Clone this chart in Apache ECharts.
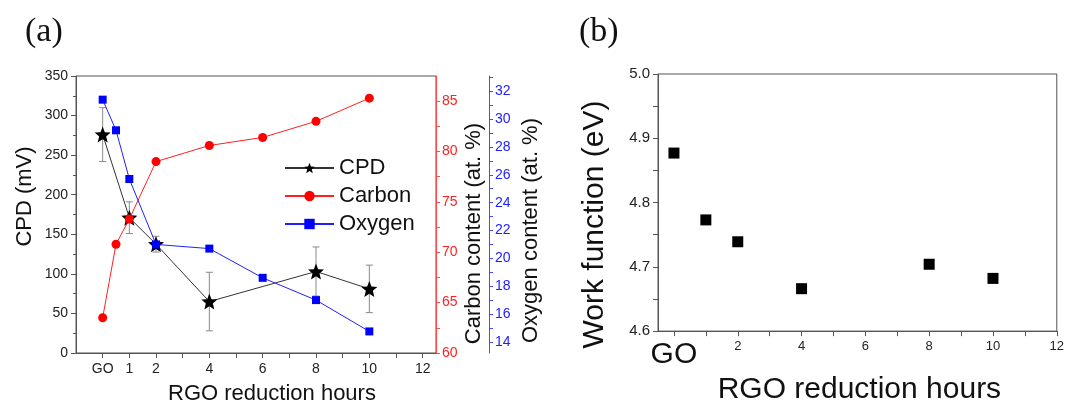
<!DOCTYPE html>
<html>
<head>
<meta charset="utf-8">
<script src="https://cdn.jsdelivr.net/npm/echarts@6/dist/echarts.min.js"></script>
<style>
  html, body { margin: 0; padding: 0; background: #fff; }
  #main { width: 1067px; height: 410px; }
</style>
</head>
<body>
<div id="main"></div>
<script>
// panel (a)
var hoursCPD = [0, 1, 2, 4, 8, 10];
var cpd = [276, 171, 137.5, 65, 103, 81];
var cpdErr = [34, 20, 10, 37, 31, 30];
var hoursComp = [0, 0.5, 1, 2, 4, 6, 8, 10];
var carbon = [63.5, 70.8, 73.3, 79.0, 80.6, 81.4, 83.0, 85.3];
var oxygen = [31.4, 29.2, 25.7, 21.0, 20.7, 18.6, 17.0, 14.75];
var xLabelsA = [0, 1, 2, 4, 6, 8, 10, 12];
var xTicks = [0, 1, 2, 3, 4, 5, 6, 7, 8, 9, 10, 11, 12];
var carbonTicks = [60, 62.5, 65, 67.5, 70, 72.5, 75, 77.5, 80, 82.5, 85];
var carbonLabels = [60, 65, 70, 75, 80, 85];
var oxygenTicks = [14, 15, 16, 17, 18, 19, 20, 21, 22, 23, 24, 25, 26, 27, 28, 29, 30, 31, 32, 33];
var oxygenLabels = [14, 16, 18, 20, 22, 24, 26, 28, 30, 32];

// panel (b)
var hoursWF = [0, 1, 2, 4, 8, 10];
var workFn = [4.877, 4.773, 4.739, 4.666, 4.704, 4.682];
var xLabelsB = [0, 2, 4, 6, 8, 10, 12];
var wfTicks = [4.6, 4.65, 4.7, 4.75, 4.8, 4.85, 4.9, 4.95, 5.0];
var wfLabels = [4.6, 4.7, 4.8, 4.9, 5.0];

// five-point star, a bit chubby like Origin's
var starPath = 'path://M50 0 L63 33 L98 35 L71 58 L80 93 L50 74 L20 93 L29 58 L2 35 L37 33 Z';
var font = 'Liberation Sans';
var axisGray = '#555';

function zip(xs, ys) {
    return xs.map(function (x, i) { return [x, ys[i]]; });
}

var myChart = echarts.init(document.getElementById('main'));
var option = {
    animation: false,
    textStyle: { fontFamily: font },
    title: [
        { text: '(a)', left: 20, top: 10, textStyle: { fontFamily: 'Liberation Serif', fontSize: 34, fontWeight: 'normal', color: '#111' } },
        { text: '(b)', left: 574, top: 10, textStyle: { fontFamily: 'Liberation Serif', fontSize: 34, fontWeight: 'normal', color: '#111' } }
    ],
    legend: {
        left: 279,
        top: 152,
        orient: 'vertical',
        itemWidth: 49,
        itemHeight: 13,
        itemGap: 6,
        textStyle: { fontSize: 22, color: '#111', fontFamily: font },
        data: ['CPD', 'Carbon', 'Oxygen']
    },
    grid: [
        { left: 76, top: 76, width: 360, height: 283, show: true, borderColor: axisGray, borderWidth: 1 },
        { left: 658, top: 74, width: 399, height: 285, show: true, borderColor: axisGray, borderWidth: 1 }
    ],
    xAxis: [
        {
            gridIndex: 0, type: 'value', min: -1, max: 12.5,
            name: 'RGO reduction hours', nameLocation: 'middle', nameGap: 30,
            nameTextStyle: { fontSize: 22, color: '#111', padding: [0, 0, 0, 32] },
            axisLine: { onZero: false, lineStyle: { color: axisGray } },
            axisTick: { customValues: xTicks, length: 5, lineStyle: { color: axisGray } },
            axisLabel: {
                customValues: xLabelsA, margin: 9, fontSize: 14, color: '#222',
                formatter: function (v) { return v === 0 ? 'GO' : String(v); }
            },
            splitLine: { show: false }
        },
        {
            gridIndex: 1, type: 'value', min: -0.5, max: 12,
            name: 'RGO reduction hours', nameLocation: 'middle', nameGap: 24,
            nameTextStyle: { fontSize: 30, color: '#111', padding: [0, 0, 0, 4] },
            axisLine: { onZero: false, lineStyle: { color: axisGray } },
            axisTick: { customValues: xTicks, length: 5, lineStyle: { color: axisGray } },
            axisLabel: {
                customValues: xLabelsB, margin: 9, fontSize: 13, color: '#222',
                formatter: function (v) { return v === 0 ? '{go|GO}' : String(v); },
                rich: { go: { fontSize: 30, color: '#111', fontFamily: font } }
            },
            splitLine: { show: false }
        }
    ],
    yAxis: [
        {
            gridIndex: 0, type: 'value', min: 0, max: 350, interval: 50,
            name: 'CPD (mV)', nameLocation: 'middle', nameGap: 40, nameRotate: 90,
            nameTextStyle: { fontSize: 22, color: '#111', padding: [0, 0, 0, 36] },
            axisLine: { show: true, onZero: false, lineStyle: { color: axisGray } },
            axisTick: { show: true, length: 5, lineStyle: { color: axisGray } },
            minorTick: { show: true, splitNumber: 2, length: 3, lineStyle: { color: axisGray } },
            axisLabel: { fontSize: 14, color: '#222', margin: 8 },
            splitLine: { show: false }
        },
        {
            gridIndex: 0, type: 'value', position: 'right', min: 60, max: 87.5,
            name: 'Carbon content (at. %)', nameLocation: 'middle', nameGap: 27, nameRotate: 90,
            nameTextStyle: { fontSize: 22, color: '#111', padding: [0, 38, 0, 0] },
            axisLine: { show: true, onZero: false, lineStyle: { color: '#ff4a4a' } },
            axisTick: { show: true, customValues: carbonTicks, length: 4, lineStyle: { color: '#ff4a4a' } },
            axisLabel: { customValues: carbonLabels, fontSize: 14, color: '#ff2020', margin: 6 },
            splitLine: { show: false }
        },
        {
            gridIndex: 0, type: 'value', position: 'right', offset: 53, min: 13.2, max: 33.1,
            name: 'Oxygen content (at. %)', nameLocation: 'middle', nameGap: 31, nameRotate: 90,
            nameTextStyle: { fontSize: 22, color: '#111', padding: [0, 32, 0, 0] },
            axisLine: { show: true, onZero: false, lineStyle: { color: '#4a4aff' } },
            axisTick: { show: true, customValues: oxygenTicks, length: 4, lineStyle: { color: '#4a4aff' } },
            axisLabel: { customValues: oxygenLabels, fontSize: 14, color: '#2020ff', margin: 6 },
            splitLine: { show: false }
        },
        {
            gridIndex: 1, type: 'value', min: 4.6, max: 5.0,
            name: 'Work function (eV)', nameLocation: 'middle', nameGap: 48, nameRotate: 90,
            nameTextStyle: { fontSize: 30, color: '#111', padding: [0, 44, 0, 0] },
            axisLine: { show: true, onZero: false, lineStyle: { color: axisGray } },
            axisTick: { show: true, customValues: wfTicks, length: 5, lineStyle: { color: axisGray } },
            axisLabel: {
                customValues: wfLabels, fontSize: 15, color: '#222', margin: 8,
                formatter: function (v) { return v.toFixed(1); }
            },
            splitLine: { show: false }
        }
    ],
    series: [
        {
            name: 'CPD error',
            type: 'custom',
            xAxisIndex: 0, yAxisIndex: 0,
            data: hoursCPD.map(function (h, i) { return [h, cpd[i] - cpdErr[i], cpd[i] + cpdErr[i]]; }),
            renderItem: function (params, api) {
                var lo = api.coord([api.value(0), api.value(1)]);
                var hi = api.coord([api.value(0), api.value(2)]);
                var w = 3.5;
                var st = { stroke: '#8a8a8a', lineWidth: 1 };
                return {
                    type: 'group',
                    children: [
                        { type: 'line', shape: { x1: lo[0], y1: lo[1], x2: hi[0], y2: hi[1] }, style: st },
                        { type: 'line', shape: { x1: lo[0] - w, y1: lo[1], x2: lo[0] + w, y2: lo[1] }, style: st },
                        { type: 'line', shape: { x1: hi[0] - w, y1: hi[1], x2: hi[0] + w, y2: hi[1] }, style: st }
                    ]
                };
            },
            z: 1
        },
        {
            name: 'CPD', type: 'line', xAxisIndex: 0, yAxisIndex: 0,
            data: zip(hoursCPD, cpd),
            symbol: starPath, symbolSize: 16,
            lineStyle: { color: '#333', width: 1 },
            itemStyle: { color: '#000' },
            z: 2
        },
        {
            name: 'Carbon', type: 'line', xAxisIndex: 0, yAxisIndex: 1,
            data: zip(hoursComp, carbon),
            symbol: 'circle', symbolSize: 9,
            lineStyle: { color: '#ff2020', width: 1 },
            itemStyle: { color: '#ff0000' },
            z: 3
        },
        {
            name: 'Oxygen', type: 'line', xAxisIndex: 0, yAxisIndex: 2,
            data: zip(hoursComp, oxygen),
            symbol: 'rect', symbolSize: 8,
            lineStyle: { color: '#2020ff', width: 1 },
            itemStyle: { color: '#0000ff' },
            z: 4
        },
        {
            name: 'Work function', type: 'scatter', xAxisIndex: 1, yAxisIndex: 3,
            data: zip(hoursWF, workFn),
            symbol: 'rect', symbolSize: 11,
            itemStyle: { color: '#000', opacity: 1 }
        }
    ]
};
myChart.setOption(option);
</script>
</body>
</html>
